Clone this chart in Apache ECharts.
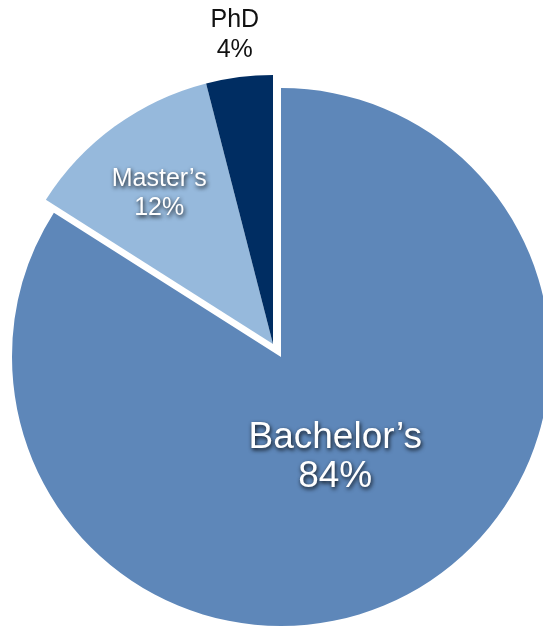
<!DOCTYPE html>
<html>
<head>
<meta charset="utf-8">
<script src="https://cdn.jsdelivr.net/npm/echarts@6/dist/echarts.min.js"></script>
<style>html,body{margin:0;padding:0;background:#fff;}#c{width:543px;height:628px;}</style>
</head>
<body>
<div id="c"></div>
<script>
var categories = ["Bachelor\u2019s", "Master\u2019s", "PhD"];
var values = [84, 12, 4];
var colors = ["#5e87b9", "#96b9dc", "#002d62"];
var explodedGroup = [false, true, true];

var FONT = "'Liberation Sans', Arial, Helvetica, sans-serif";
var shadowLabel = {
  color: '#fff', fontFamily: FONT,
  textShadowColor: 'rgba(0,0,0,0.9)', textShadowBlur: 4,
  textShadowOffsetX: 1, textShadowOffsetY: 2
};
var labelStyles = [
  Object.assign({}, shadowLabel, {fontSize: 37, lineHeight: 39}),
  Object.assign({}, shadowLabel, {fontSize: 25, lineHeight: 29}),
  {color: '#111', fontFamily: FONT, fontSize: 25, lineHeight: 30}
];
var labelShift = [[-12, -20], [-33, -39], [-21, -172]];

function buildData(exploded) {
  return categories.map(function (name, i) {
    var visible = explodedGroup[i] === exploded;
    return {
      name: name,
      value: values[i],
      itemStyle: {color: visible ? colors[i] : 'rgba(0,0,0,0)'},
      label: visible ? Object.assign({show: true, position: 'inside',
        formatter: function (p) { return p.name + '\n' + p.value + '%'; }}, labelStyles[i]) : {show: false}
    };
  });
}

function layoutFor(params) {
  var s = labelShift[params.dataIndex];
  return {dx: s[0], dy: s[1]};
}

var chart = echarts.init(document.getElementById('c'), null, {renderer: 'canvas'});
chart.setOption({
  animation: false,
  series: [
    {
      type: 'pie', center: [281, 357], radius: 269, startAngle: 90, clockwise: true,
      silent: true, labelLine: {show: false}, labelLayout: layoutFor,
      data: buildData(false)
    },
    {
      type: 'pie', center: [273, 344], radius: 269, startAngle: 90, clockwise: true,
      silent: true, labelLine: {show: false}, labelLayout: layoutFor,
      data: buildData(true)
    }
  ]
});
</script>
</body>
</html>
